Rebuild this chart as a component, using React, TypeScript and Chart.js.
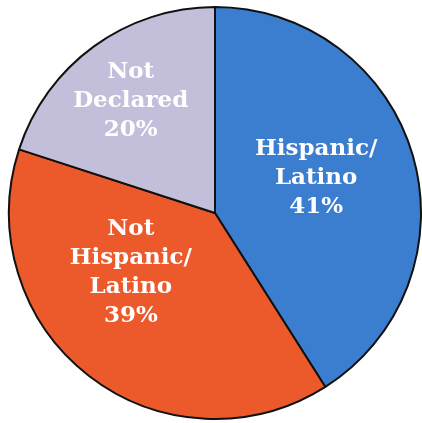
import React, { useEffect, useRef } from "react";
import { Chart, registerables } from "chart.js";

Chart.register(...registerables);

const categories = ["Hispanic/\nLatino", "Not\nHispanic/\nLatino", "Not\nDeclared"];
const shares = [41, 39, 20];
const sliceColors = ["#3b7dcf", "#ec5a2b", "#c3bfdb"];

// label placement per slice: fraction of radius and angular nudge (degrees)
const labelRadius = [0.52, 0.5, 0.68];
const labelNudge = [-3, 17, -1];

const sliceLabels = {
  id: "sliceLabels",
  afterDatasetsDraw(chart: any) {
    const { ctx } = chart;
    const meta = chart.getDatasetMeta(0);
    ctx.save();
    ctx.fillStyle = "#ffffff";
    ctx.textAlign = "center";
    ctx.textBaseline = "middle";
    ctx.font = "bold 23px 'DejaVu Serif', serif";
    meta.data.forEach((arc: any, i: number) => {
      const { x, y, startAngle, endAngle, outerRadius } = arc.getProps(
        ["x", "y", "startAngle", "endAngle", "outerRadius"],
        true
      );
      const mid = (startAngle + endAngle) / 2 + (labelNudge[i] * Math.PI) / 180;
      const r = outerRadius * labelRadius[i];
      const cx = x + Math.cos(mid) * r;
      const cy = y + Math.sin(mid) * r;
      const lines = [...categories[i].split("\n"), `${shares[i]}%`];
      const lh = 29;
      const top = cy - ((lines.length - 1) * lh) / 2;
      lines.forEach((t, k) => ctx.fillText(t, cx, top + k * lh));
    });
    ctx.restore();
  },
};

export default function App() {
  const ref = useRef<HTMLCanvasElement>(null);
  useEffect(() => {
    document.body.style.margin = "0";
    document.body.style.background = "#ffffff";
    const chart = new Chart(ref.current!, {
      type: "pie",
      data: {
        labels: categories,
        datasets: [
          {
            data: shares,
            backgroundColor: sliceColors,
            borderColor: "#111111",
            borderWidth: 2,
          },
        ],
      },
      options: {
        responsive: false,
        animation: false,
        layout: { padding: { left: 8, right: 0, top: 6, bottom: 3 } },
        plugins: {
          legend: { display: false },
          tooltip: { enabled: false },
        },
      },
      plugins: [sliceLabels],
    });
    return () => chart.destroy();
  }, []);
  return (
    <div style={{ width: 422, height: 423, background: "#ffffff" }}>
      <canvas ref={ref} width={422} height={423} />
    </div>
  );
}
